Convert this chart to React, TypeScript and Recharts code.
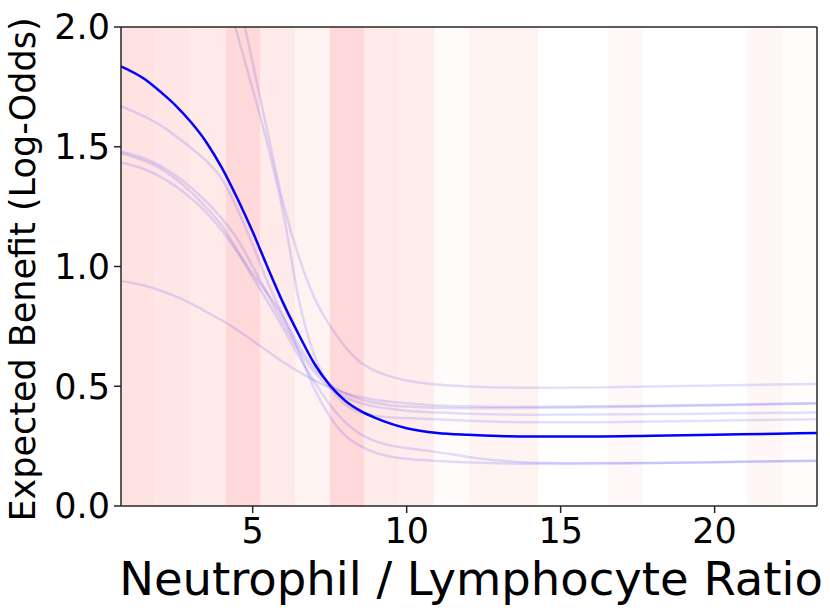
import { LineChart, Line, XAxis, YAxis, ReferenceArea } from 'recharts'

// NLR sample points (x) and fitted curves
const nlr = [0.72, 1.5, 2.0, 2.5, 3.0, 3.5, 4.0, 4.5, 5.0, 5.5, 6.0, 6.5, 7.0, 7.5, 8.0, 8.5, 9.0, 9.5, 10, 11, 12, 13, 14, 16, 18, 20, 22, 23.32]

const meanBenefit = [1.836, 1.782, 1.73, 1.672, 1.602, 1.518, 1.412, 1.285, 1.145, 0.992, 0.845, 0.715, 0.595, 0.505, 0.44, 0.397, 0.367, 0.343, 0.325, 0.305, 0.297, 0.292, 0.29, 0.29, 0.293, 0.297, 0.302, 0.305]

// faint bootstrap curves
const boot1 = [null, null, null, null, null, null, 2.45, 2.15, 1.85, 1.55, 1.26, 1.04, 0.87, 0.755, 0.665, 0.6, 0.563, 0.54, 0.524, 0.507, 0.499, 0.495, 0.494, 0.495, 0.499, 0.503, 0.507, 0.509]
const boot2 = [null, null, null, null, null, null, 2.2, 1.97, 1.74, 1.5, 1.22, 0.86, 0.63, 0.5, 0.425, 0.39, 0.376, 0.37, 0.367, 0.362, 0.356, 0.352, 0.35, 0.35, 0.353, 0.356, 0.36, 0.362]
const boot3 = [1.67, 1.625, 1.59, 1.545, 1.495, 1.44, 1.365, 1.24, 1.09, 0.93, 0.79, 0.67, 0.575, 0.51, 0.47, 0.445, 0.43, 0.42, 0.415, 0.41, 0.408, 0.408, 0.409, 0.412, 0.416, 0.42, 0.425, 0.429]
const boot4 = [1.479, 1.45, 1.42, 1.38, 1.33, 1.27, 1.2, 1.115, 1.0, 0.88, 0.76, 0.65, 0.56, 0.495, 0.455, 0.43, 0.415, 0.405, 0.398, 0.39, 0.385, 0.382, 0.381, 0.382, 0.384, 0.386, 0.389, 0.39]
const boot5 = [1.473, 1.44, 1.41, 1.365, 1.31, 1.245, 1.17, 1.07, 0.97, 0.885, 0.785, 0.645, 0.49, 0.375, 0.295, 0.25, 0.222, 0.206, 0.197, 0.188, 0.182, 0.178, 0.176, 0.177, 0.18, 0.183, 0.187, 0.189]
const boot6 = [1.434, 1.405, 1.375, 1.335, 1.285, 1.225, 1.15, 1.06, 0.955, 0.85, 0.74, 0.625, 0.52, 0.425, 0.35, 0.3, 0.27, 0.252, 0.242, 0.225, 0.205, 0.19, 0.182, 0.178, 0.18, 0.183, 0.187, 0.189]
const boot7 = [0.94, 0.92, 0.9, 0.875, 0.845, 0.81, 0.775, 0.735, 0.69, 0.645, 0.6, 0.56, 0.525, 0.495, 0.472, 0.455, 0.443, 0.435, 0.429, 0.42, 0.416, 0.414, 0.414, 0.416, 0.419, 0.423, 0.427, 0.429]

// histogram-like density bands behind the curves
const bandEdges = [0.724, 1.854, 2.984, 4.114, 5.244, 6.374, 7.504, 8.634, 9.764, 10.894, 12.024, 13.154, 14.284, 15.414, 16.544, 17.674, 18.804, 19.934, 21.064, 22.194, 23.324]
const bandColors = ['#ffe2e2', '#ffe6e6', '#ffeaea', '#ffd9d9', '#ffeaea', '#fff3f2', '#ffd9d9', '#ffeaea', '#ffecec', '#fffbfa',
  '#fff3f2', '#fff3f2', '#ffffff', '#ffffff', '#fff8f8', '#ffffff', '#ffffff', '#ffffff', '#fff6f6', '#fffcfb']

const xTicks = [5, 10, 15, 20]
const yTicks = [0, 0.5, 1.0, 1.5, 2.0]

const boots = [boot1, boot2, boot3, boot4, boot5, boot6, boot7]

const data = nlr.map((x, i) => {
  const row: Record<string, number | null> = { x, mean: meanBenefit[i] }
  boots.forEach((b, j) => { row[`b${j}`] = b[i] })
  return row
})

const FONT = 'DejaVu Sans'
const AXIS = '#262626'
const X_DOMAIN: [number, number] = [0.724, 23.324]

export default function App() {
  return (
    <div style={{ position: 'absolute', left: 0, top: 0, width: 830, height: 615, background: '#fff' }}>
      <LineChart width={830} height={615} data={data} margin={{ top: 26, right: 12, bottom: 0, left: 0 }}>
        <XAxis dataKey="x" type="number" domain={X_DOMAIN} allowDataOverflow ticks={xTicks}
          height={109} tickSize={7} tickMargin={5} stroke={AXIS} strokeWidth={1.5}
          tick={{ fontSize: 35, fontFamily: FONT, fill: '#000' }}
          label={({ viewBox }: any) => (
            <text x={viewBox.x + viewBox.width / 2 + 2} y={595} textAnchor="middle"
              fontSize={46.5} fontFamily={FONT} fill="#000">Neutrophil / Lymphocyte Ratio</text>
          )} />
        {/* top and right spines */}
        <XAxis xAxisId="top" orientation="top" dataKey="x" type="number" domain={X_DOMAIN} allowDataOverflow
          height={1} tick={false} tickLine={false} stroke={AXIS} strokeWidth={1.5} />
        <YAxis type="number" domain={[0, 2]} allowDataOverflow ticks={yTicks} width={121}
          tickSize={7} tickMargin={4} stroke={AXIS} strokeWidth={1.5}
          tickFormatter={(v: number) => v.toFixed(1)}
          tick={{ fontSize: 35, fontFamily: FONT, fill: '#000' }}
          label={({ viewBox }: any) => {
            const cy = viewBox.y + viewBox.height / 2 + 3
            return (
              <text x={35} y={cy} transform={`rotate(-90, 35, ${cy})`} textAnchor="middle"
                fontSize={35} fontFamily={FONT} fill="#000">Expected Benefit (Log-Odds)</text>
            )
          }} />
        <YAxis yAxisId="right" orientation="right" type="number" domain={[0, 2]} allowDataOverflow
          width={1} tick={false} tickLine={false} stroke={AXIS} strokeWidth={1.5} />

        {bandColors.map((c, i) => (
          <ReferenceArea key={i} x1={bandEdges[i]} x2={bandEdges[i + 1]} y1={0} y2={2}
            fill={c} fillOpacity={1} stroke="none" ifOverflow="hidden" />
        ))}

        {boots.map((_, j) => (
          <Line key={j} dataKey={`b${j}`} type="monotone" stroke="#0000ff" strokeOpacity={0.12}
            strokeWidth={2.5} dot={false} activeDot={false} isAnimationActive={false} />
        ))}
        <Line dataKey="mean" type="monotone" stroke="#0000ff" strokeWidth={2.5}
          dot={false} activeDot={false} isAnimationActive={false} />
      </LineChart>
    </div>
  )
}
